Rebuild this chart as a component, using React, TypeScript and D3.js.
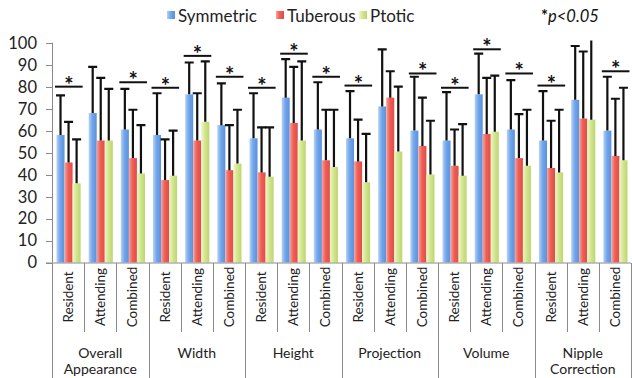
import React from "react";
import * as d3 from "d3";

const groups = ["Overall\nAppearance", "Width", "Height", "Projection", "Volume", "Nipple\nCorrection"];
const subCategories = ["Resident", "Attending", "Combined"];
const seriesNames = ["Symmetric", "Tuberous", "Ptotic"];

const symmetric = [58, 68, 60.5, 58, 76.5, 62.5, 56.5, 75, 60.5, 56.5, 71, 60, 55.5, 76.5, 60.5, 55.5, 74, 60];
const symmetricSD = [18, 21, 18.5, 19, 14.5, 19, 20.5, 17.5, 21.5, 21.5, 26, 24.5, 22, 18.5, 22.5, 22.5, 24.5, 24.5];
const tuberous = [45.5, 55.5, 47.5, 37.5, 55.5, 42, 41, 63.5, 46.5, 46, 75, 53, 44, 58.5, 47.5, 43, 65.5, 48.5];
const tuberousSD = [18.5, 28.5, 22, 18.5, 21.5, 20.5, 20.5, 25.5, 23, 19, 12, 22, 16.5, 25.5, 20, 21.5, 30.5, 26];
const ptotic = [36, 55.5, 40.5, 39.5, 64, 45, 39, 55.5, 43.5, 36.5, 50.5, 40, 39.5, 59.5, 44, 41, 65, 46.5];
const ptoticSD = [20, 23.5, 22, 20.5, 27.5, 24.5, 22.5, 36, 26, 22, 29.5, 24.5, 23.5, 25.5, 25.5, 28.5, 38, 33];
// level of the significance bar (null = not significant)
const significance: (number | null)[] = [80, null, 82, 79.5, 94, 84.5, 79.5, 95, 84.5, 80.5, null, 86, 79.5, 97, 86, 80.5, null, 87];
const yTicks = [0, 10, 20, 30, 40, 50, 60, 70, 80, 90, 100];

const gradients = [
  { id: "gBlue", stops: ["#b8d2f3", "#72a6ea", "#5a91de"] },
  { id: "gRed", stops: ["#f6a39b", "#ee5f57", "#e54a42"] },
  { id: "gGreen", stops: ["#eef6cc", "#d2e78f", "#bdd56f"] },
];

const W = 632;
const H = 378;
const FONT = "Lato, 'DejaVu Sans', sans-serif";

export default function App() {
  const cats = d3.range(groups.length * subCategories.length);
  const x = d3.scaleBand<number>().domain(cats).range([52, 631]).padding(0);
  const inner = d3
    .scaleBand<string>()
    .domain(seriesNames)
    .range([0, x.bandwidth()])
    .paddingInner(0)
    .paddingOuter(0.5)
    .align(0.56);
  const y = d3.scaleLinear().domain([0, 100]).range([262.5, 42.7]);

  const seriesVals = [symmetric, tuberous, ptotic];
  const seriesSD = [symmetricSD, tuberousSD, ptoticSD];
  const capW = 9;
  const axisColor = "#8a8a8a";
  const subLineBottom = 332;

  return (
    <svg
      width={W}
      height={H}
      style={{ position: "absolute", left: 0, top: 0, background: "#fff" }}
      fontFamily={FONT}
    >
      <defs>
        {gradients.map((g) => (
          <linearGradient key={g.id} id={g.id} x1="0" x2="1" y1="0" y2="0">
            <stop offset="0%" stopColor={g.stops[0]} />
            <stop offset="45%" stopColor={g.stops[1]} />
            <stop offset="100%" stopColor={g.stops[2]} />
          </linearGradient>
        ))}
        <clipPath id="plotClip">
          <rect x={40} y={y(101)} width={600} height={y(0) - y(101)} />
        </clipPath>
      </defs>

      {/* Legend */}
      {seriesNames.map((s, i) => {
        const lx = [167, 276, 359][i];
        return (
          <g key={s}>
            <rect x={lx} y={11} width={8} height={8} fill={`url(#${gradients[i].id})`} />
            <text x={lx + 11} y={21.5} fontSize={17} fill="#222">
              {s}
            </text>
          </g>
        );
      })}
      <text x={541} y={21.5} fontSize={16.5} fill="#111">
        <tspan fontWeight="bold">*</tspan>
        <tspan fontStyle="italic">p&lt;0.05</tspan>
      </text>

      {/* Y axis */}
      <line x1={52.5} x2={52.5} y1={y(100)} y2={y(0)} stroke={axisColor} strokeWidth={1} />
      {yTicks.map((t) => (
        <g key={t}>
          <line x1={46} x2={52.5} y1={Math.round(y(t)) + 0.5} y2={Math.round(y(t)) + 0.5} stroke={axisColor} />
          <text x={37} y={y(t)} dy="0.36em" textAnchor="end" fontSize={16.5} fill="#222">
            {t}
          </text>
        </g>
      ))}

      {/* Bars */}
      {cats.map((c) =>
        seriesNames.map((s, si) => {
          const bx = (x(c) as number) + (inner(s) as number);
          const v = seriesVals[si][c];
          return (
            <rect
              key={`${c}-${s}`}
              x={bx}
              y={y(v)}
              width={inner.bandwidth()}
              height={y(0) - y(v)}
              fill={`url(#${gradients[si].id})`}
            />
          );
        })
      )}

      {/* Error bars */}
      <g clipPath="url(#plotClip)" stroke="#111" strokeWidth={2.2}>
        {cats.map((c) =>
          seriesNames.map((s, si) => {
            const cx = (x(c) as number) + (inner(s) as number) + inner.bandwidth() / 2;
            const v = seriesVals[si][c];
            const top = v + seriesSD[si][c];
            return (
              <g key={`e-${c}-${s}`}>
                <line x1={cx} x2={cx} y1={y(v)} y2={y(top)} />
                <line x1={cx - capW / 2} x2={cx + capW / 2} y1={y(top)} y2={y(top)} />
              </g>
            );
          })
        )}
      </g>

      {/* Significance bars */}
      {cats.map((c) => {
        const lvl = significance[c];
        if (lvl == null) return null;
        const x0 = (x(c) as number) + (inner(seriesNames[0]) as number) - 1.5;
        const x1 = (x(c) as number) + (inner(seriesNames[2]) as number) + inner.bandwidth() + 2;
        return (
          <g key={`s-${c}`}>
            <line x1={x0} x2={x1} y1={y(lvl)} y2={y(lvl)} stroke="#111" strokeWidth={2} />
            <text
              x={(x0 + x1) / 2}
              y={y(lvl) + 6}
              textAnchor="middle"
              fontSize={22}
              fontWeight="bold"
              fill="#111"
            >
              *
            </text>
          </g>
        );
      })}

      {/* X axis */}
      <line x1={46} x2={631} y1={263} y2={263} stroke={axisColor} />
      {d3.range(cats.length + 1).map((i) => {
        const lx = i < cats.length ? (x(i) as number) : 631;
        const isGroup = i % subCategories.length === 0;
        return (
          <line
            key={`v-${i}`}
            x1={Math.round(lx) + 0.5}
            x2={Math.round(lx) + 0.5}
            y1={263}
            y2={isGroup ? H : subLineBottom}
            stroke={axisColor}
          />
        );
      })}
      {cats.map((c) => {
        const cx = (x(c) as number) + x.bandwidth() / 2;
        return (
          <text
            key={`l-${c}`}
            transform={`translate(${cx + 5},${297}) rotate(-90)`}
            textAnchor="middle"
            fontSize={13.5}
            fill="#222"
          >
            {subCategories[c % subCategories.length]}
          </text>
        );
      })}
      {groups.map((g, gi) => {
        const start = x(gi * subCategories.length) as number;
        const cx = start + (x.bandwidth() * subCategories.length) / 2;
        return (
          <text key={g} x={cx} textAnchor="middle" fontSize={14} fill="#222">
            {g.split("\n").map((line, li) => (
              <tspan key={li} x={cx} y={358 + li * 16}>
                {line}
              </tspan>
            ))}
          </text>
        );
      })}
    </svg>
  );
}
